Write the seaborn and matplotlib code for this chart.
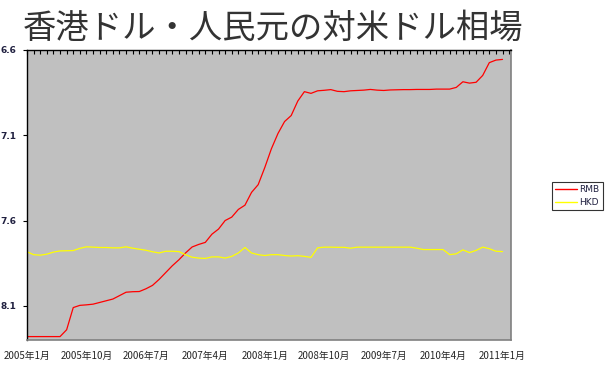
import pandas as pd
import numpy as np
import matplotlib
matplotlib.use('Agg')
import matplotlib.pyplot as plt
import seaborn as sns
from matplotlib.ticker import MultipleLocator, FixedLocator

# monthly series, 2005/1 .. 2011/1
rmb = [8.28, 8.28, 8.28, 8.28, 8.28, 8.28, 8.24, 8.11, 8.097, 8.094, 8.09, 8.08,
       8.07, 8.06, 8.04, 8.02, 8.017, 8.016, 8.00, 7.98, 7.945, 7.905, 7.865, 7.83,
       7.79, 7.755, 7.74, 7.728, 7.68, 7.65, 7.60, 7.58, 7.535, 7.51, 7.435, 7.39,
       7.29, 7.18, 7.09, 7.02, 6.985, 6.90, 6.845, 6.855, 6.84, 6.837, 6.833, 6.843,
       6.845, 6.84, 6.838, 6.836, 6.832, 6.836, 6.838, 6.835, 6.834, 6.833, 6.833, 6.832,
       6.832, 6.832, 6.830, 6.830, 6.830, 6.82, 6.787, 6.795, 6.79, 6.75, 6.675, 6.66,
       6.656]
hkd = [7.783, 7.80, 7.803, 7.797, 7.785, 7.778, 7.777, 7.776, 7.763, 7.754, 7.756, 7.758,
       7.758, 7.76, 7.76, 7.754, 7.762, 7.768, 7.774, 7.783, 7.79, 7.78, 7.78, 7.782,
       7.80, 7.815, 7.82, 7.822, 7.813, 7.813, 7.82, 7.81, 7.79, 7.758, 7.79, 7.80,
       7.805, 7.80, 7.80, 7.805, 7.808, 7.806, 7.81, 7.816, 7.76, 7.756, 7.756, 7.757,
       7.757, 7.762, 7.756, 7.756, 7.756, 7.756, 7.756, 7.756, 7.756, 7.756, 7.756, 7.762,
       7.77, 7.77, 7.77, 7.77, 7.80, 7.795, 7.772, 7.788, 7.775, 7.756, 7.765, 7.78,
       7.782]
start_year = 2005
tick_every = 9
yticks = [6.6, 7.1, 7.6, 8.1]
series_names = ['RMB', 'HKD']
series_colors = ['#FF0000', '#FFFF00']
title = '香港ドル・人民元の対米ドル相場'

n = len(rmb)
labels = []
for i in range(n):
    labels.append('{}年{}月'.format(start_year + i // 12, i % 12 + 1))

df = pd.DataFrame({'idx': list(range(n)) * 2,
                   'value': rmb + hkd,
                   'series': ['RMB'] * n + ['HKD'] * n})

sns.set_theme(style='white')
plt.rcParams['font.family'] = ['Noto Sans CJK JP', 'DejaVu Sans']

fig = plt.figure(figsize=(6.07, 3.72), dpi=100)
ax = fig.add_axes([0.0445, 0.086, 0.7975, 0.78])
ax.set_facecolor('#C0C0C0')

sns.lineplot(data=df, x='idx', y='value', hue='series', hue_order=series_names,
             palette=series_colors, linewidth=0.9, ax=ax, legend=False)

ax.set_xlim(0, 73.3)
ax.set_ylim(8.3, 6.6)
ax.set_xlabel('')
ax.set_ylabel('')

major = list(range(0, n, tick_every))
ax.xaxis.set_major_locator(FixedLocator(major))
ax.set_xticklabels([labels[i] for i in major])
ax.xaxis.set_minor_locator(MultipleLocator(1))
ax.tick_params(axis='x', which='both', top=True, bottom=False, labelbottom=True,
               labeltop=False, direction='in', length=3, width=0.8, color='black',
               labelsize=7, pad=8)

ax.set_yticks(yticks)
ax.set_yticklabels(['{:.1f}'.format(v) for v in yticks], fontweight='bold',
                   color='#202040', family='DejaVu Sans')
ax.tick_params(axis='y', which='major', left=True, direction='out', length=3,
               width=0.8, color='black', labelsize=6.5, pad=5)

ax.spines['top'].set_color('black')
ax.spines['left'].set_color('black')
ax.spines['top'].set_linewidth(1.0)
ax.spines['left'].set_linewidth(1.0)
ax.spines['right'].set_color('#808080')
ax.spines['bottom'].set_color('#808080')
ax.spines['right'].set_linewidth(1.2)
ax.spines['bottom'].set_linewidth(1.2)

handles = [plt.Line2D([], [], color=c, linewidth=1.0) for c in series_colors]
leg = ax.legend(handles, series_names, loc='upper left', bbox_to_anchor=(0.902, 0.522),
                bbox_transform=fig.transFigure, fontsize=6.5, frameon=True,
                fancybox=False, edgecolor='black', handlelength=2.4,
                borderpad=0.35, labelspacing=0.4, handletextpad=0.3)
leg.get_frame().set_linewidth(0.8)
for t in leg.get_texts():
    t.set_family('DejaVu Sans')
    t.set_color('#202040')

fig.text(0.037, 0.925, title, fontsize=24, color='#333333', va='center', ha='left')

fig.savefig('out.png', dpi=100)
